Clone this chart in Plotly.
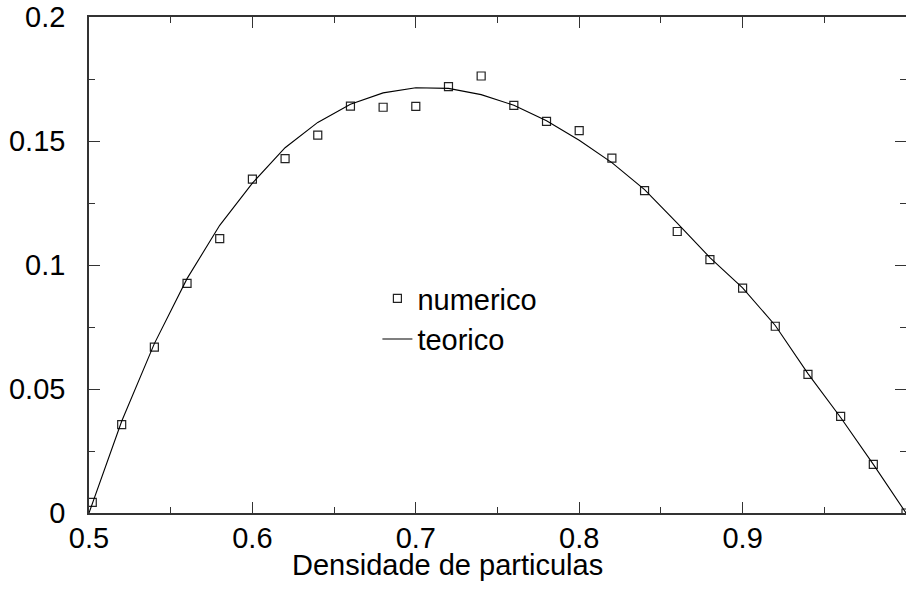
import plotly.graph_objects as go

# numerical data (squares)
num_x = [0.502, 0.52, 0.54, 0.56, 0.58, 0.60, 0.62, 0.64, 0.66, 0.68, 0.70, 0.72, 0.74,
         0.76, 0.78, 0.80, 0.82, 0.84, 0.86, 0.88, 0.90, 0.92, 0.94, 0.96, 0.98, 1.0]
num_y = [0.0043, 0.0356, 0.0669, 0.0926, 0.1106, 0.1346, 0.1429, 0.1524, 0.1641, 0.1636,
         0.1640, 0.1719, 0.1762, 0.1644, 0.1579, 0.1542, 0.1431, 0.1300, 0.1135, 0.1022,
         0.0907, 0.0753, 0.0559, 0.0390, 0.0196, 0.0]

# theoretical curve (line)
teo_x = [0.50, 0.52, 0.54, 0.56, 0.58, 0.60, 0.62, 0.64, 0.66, 0.68, 0.70, 0.72, 0.74,
         0.76, 0.78, 0.80, 0.82, 0.84, 0.86, 0.88, 0.90, 0.92, 0.94, 0.96, 0.98, 1.0]
teo_y = [0.0, 0.037, 0.0683, 0.0945, 0.116, 0.133, 0.1473, 0.1575, 0.1648, 0.1694, 0.1715,
         0.1712, 0.1687, 0.1644, 0.1582, 0.1503, 0.1413, 0.1304, 0.1169, 0.1030, 0.0908,
         0.0756, 0.0562, 0.0385, 0.0196, 0.0]

x_ticks = [0.5, 0.6, 0.7, 0.8, 0.9, 1.0]
x_ticklabels = ["0.5", "0.6", "0.7", "0.8", "0.9", "1"]
y_ticks = [0, 0.05, 0.1, 0.15, 0.2]
y_ticklabels = ["0", "0.05", "0.1", "0.15", "0.2"]

FONT = "Liberation Sans, Arial, sans-serif"
FS = 29

fig = go.Figure()
fig.add_trace(go.Scatter(
    x=num_x, y=num_y, mode="markers", name="numerico",
    marker=dict(symbol="square-open", size=8, color="#222222", line=dict(width=1.2)),
))
fig.add_trace(go.Scatter(
    x=teo_x, y=teo_y, mode="lines", name="teorico",
    line=dict(color="black", width=1.1),
))

axis_common = dict(
    showline=True, linecolor="#333333", linewidth=1.5, mirror="ticks",
    ticks="inside", ticklen=11, tickwidth=1.2, tickcolor="#333333",
    showgrid=False, zeroline=False, automargin=False,
    tickfont=dict(family=FONT, size=FS, color="black"),
)

fig.update_xaxes(
    range=[0.5, 1.0], tickvals=x_ticks, ticktext=x_ticklabels,
    minor=dict(dtick=0.05, tick0=0.5, ticks="inside", ticklen=6, tickwidth=1.2,
               tickcolor="#333333", showgrid=False),
    ticklabelstandoff=-2,
    **axis_common,
)
fig.update_yaxes(
    range=[0, 0.2], tickvals=y_ticks, ticktext=y_ticklabels,
    minor=dict(dtick=0.025, tick0=0, ticks="inside", ticklen=6, tickwidth=1.2,
               tickcolor="#333333", showgrid=False),
    ticklabelstandoff=16,
    **axis_common,
)

fig.add_annotation(
    text="Densidade de particulas", xref="paper", yref="paper",
    x=0.439, y=-0.105, xanchor="center", yanchor="middle", showarrow=False,
    font=dict(family=FONT, size=FS, color="black"),
)

fig.update_layout(
    width=906, height=599,
    margin=dict(l=89, r=0, t=17, b=86, autoexpand=False),
    paper_bgcolor="white", plot_bgcolor="white",
    showlegend=True,
    legend=dict(x=0.353, y=0.484, xanchor="left", yanchor="top",
                bgcolor="rgba(0,0,0,0)", borderwidth=0,
                font=dict(family=FONT, size=FS, color="black"),
                tracegroupgap=0),
)

fig.write_html("out.html", config={"displayModeBar": False},
               post_script="document.body.style.margin='0';")
